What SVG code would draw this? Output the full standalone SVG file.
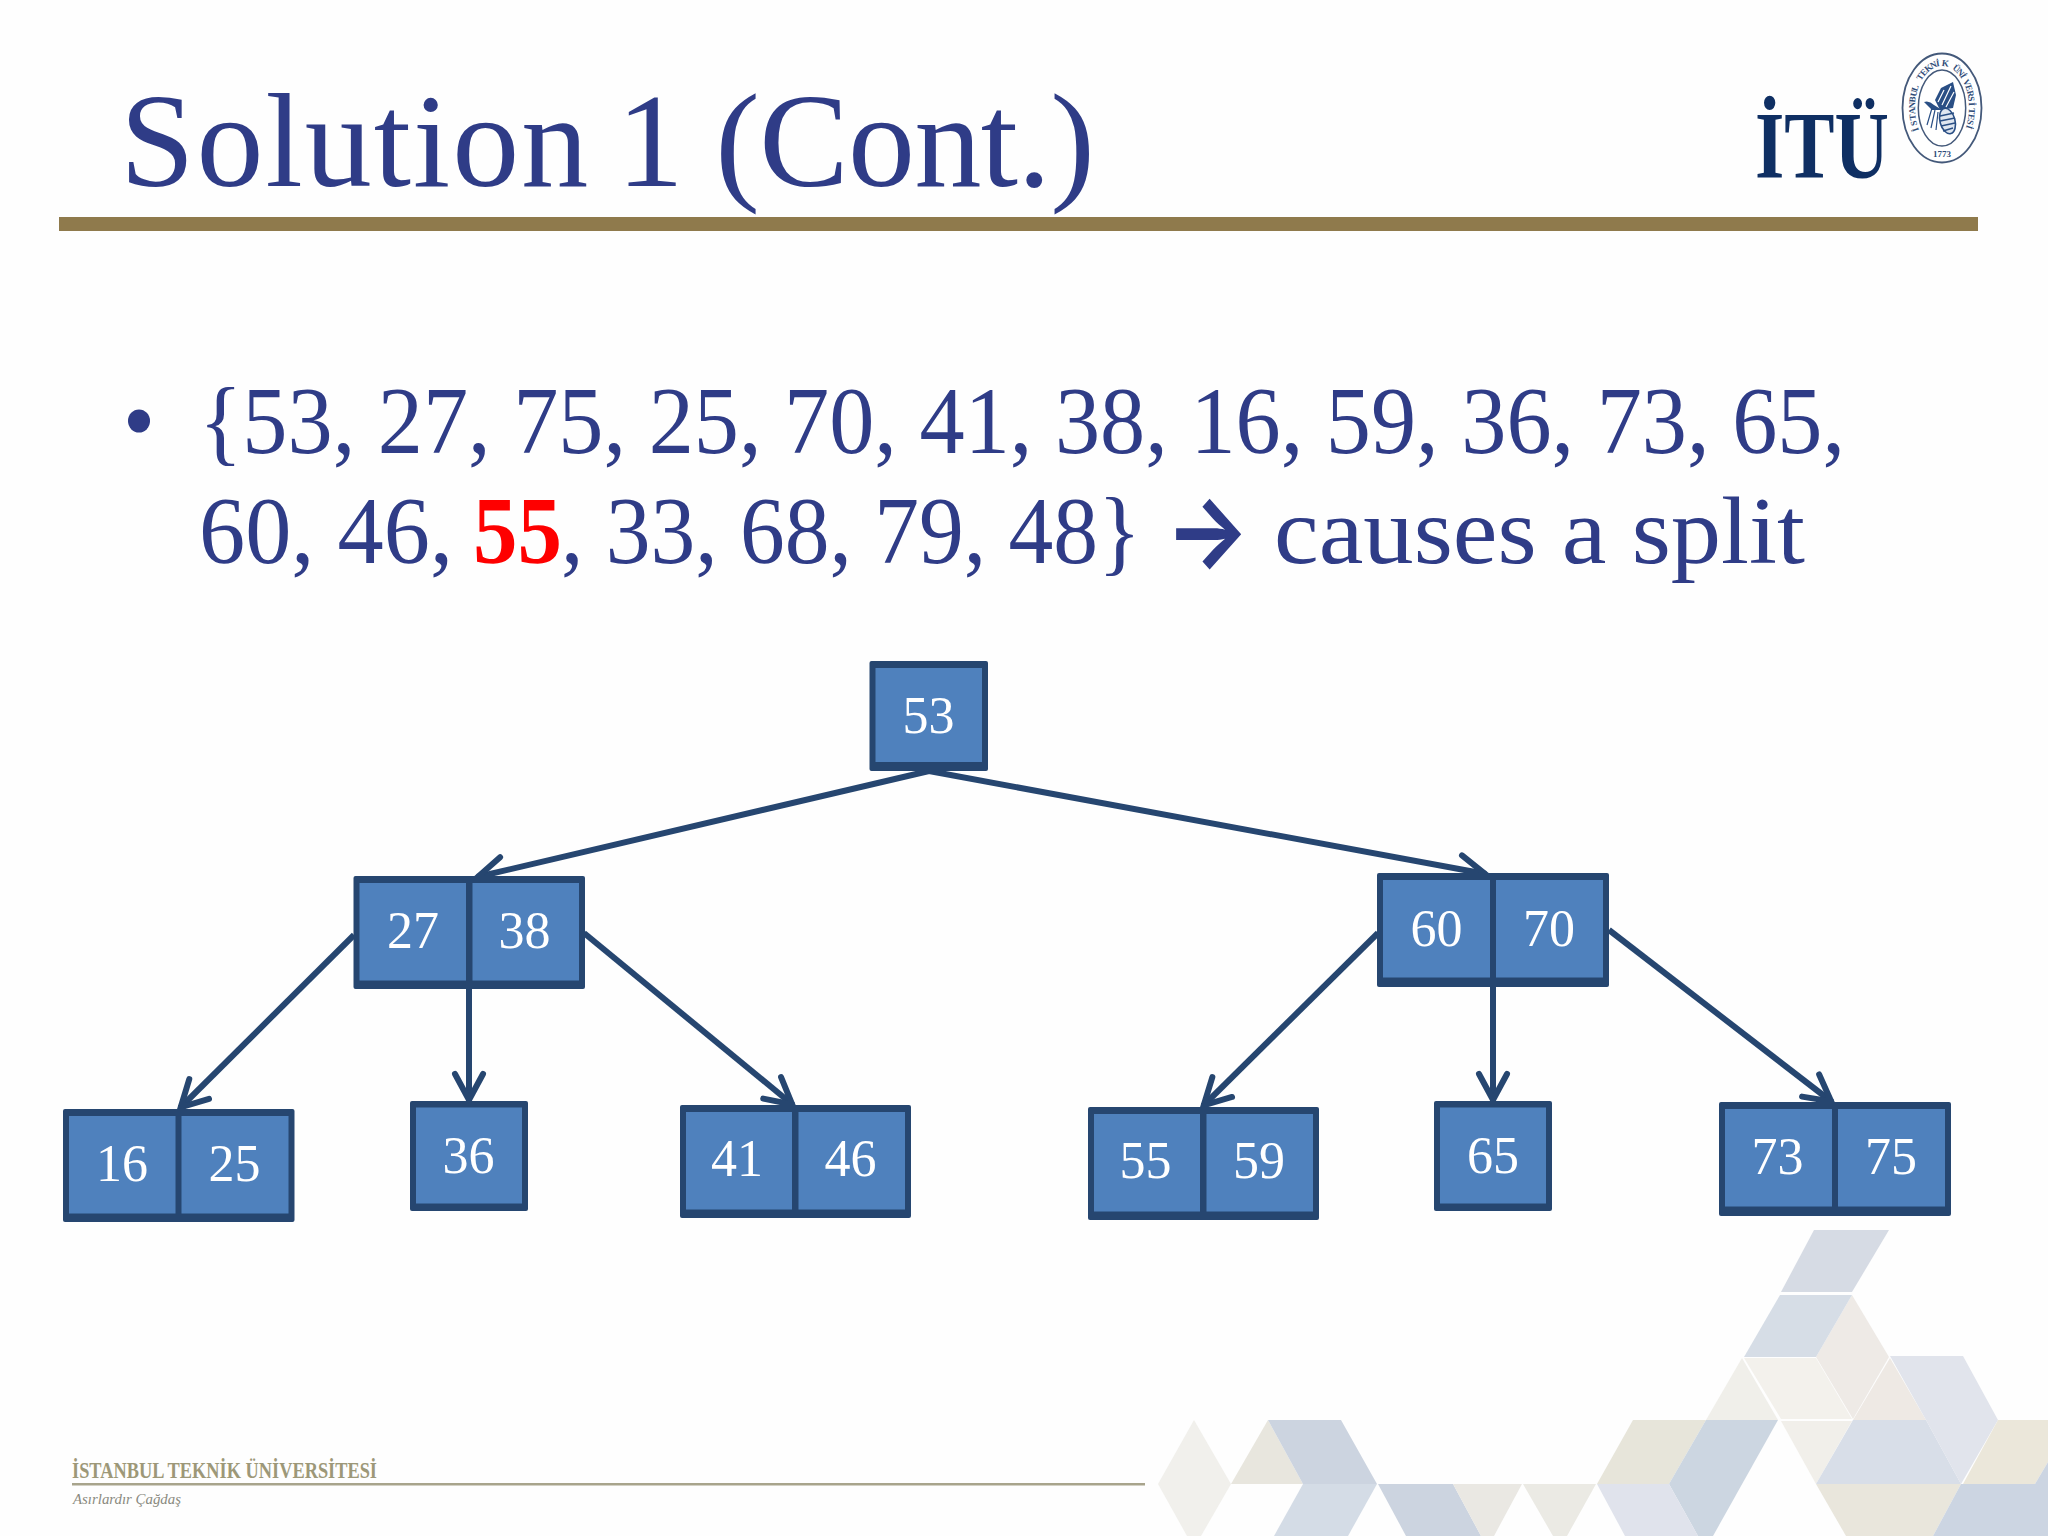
<svg xmlns="http://www.w3.org/2000/svg" width="2048" height="1536" viewBox="0 0 2048 1536">
<style>
.t{font-family:"Liberation Serif","Times New Roman",serif;fill:#2f3c87}
.l{font-size:96px}
.n{font-family:"Liberation Serif","Times New Roman",serif;font-size:52px;fill:#fff;text-anchor:middle}
.b{fill:#264670}
.c{fill:#4f81bd}
.e{fill:none;stroke:#264670;stroke-width:6}
.a{fill:none;stroke:#264670;stroke-width:6;stroke-linecap:round;stroke-linejoin:miter}
.s{font-family:"Liberation Serif",serif;font-weight:bold;font-size:9px;fill:#2f4c78}
</style>
<defs>
<marker id="ah" markerUnits="userSpaceOnUse" markerWidth="60" markerHeight="60" refX="40" refY="30" orient="auto" overflow="visible">
<path class="a" d="M13,16 L39,30 L13,44"/>
</marker>
</defs>
<rect width="2048" height="1536" fill="#fefefe"/>
<g id="background-pattern">
<polygon fill="#f1f0ec" points="1194,1420 1231,1484 1201,1536 1187,1536 1158,1484"/>
<polygon fill="#e8e6de" points="1268,1420 1303,1484 1231,1484"/>
<polygon fill="#ccd4e0" points="1268,1420 1341,1420 1377,1484 1303,1484"/>
<polygon fill="#d4dce6" points="1303,1484 1377,1484 1348,1536 1274,1536"/>
<polygon fill="#ccd4e0" points="1378,1484 1453,1484 1481,1536 1406,1536"/>
<polygon fill="#eae8e3" points="1453,1484 1522,1484 1494,1536 1481,1536"/>
<polygon fill="#ebeae4" points="1523,1484 1596,1484 1567,1536 1553,1536"/>
<polygon fill="#e7e5da" points="1633,1420 1706,1420 1669,1484 1597,1484"/>
<polygon fill="#ccd6e1" points="1706,1420 1778,1420 1713,1536 1698,1536 1669,1484"/>
<polygon fill="#e0e3ec" points="1597,1484 1669,1484 1698,1536 1625,1536"/>
<polygon fill="#f0efea" points="1742,1358 1778,1420 1706,1420"/>
<polygon fill="#f3f1ec" points="1744,1358 1816,1358 1852,1419 1781,1419"/>
<polygon fill="#eeeae6" points="1852,1295 1889,1357 1853,1419 1816,1357"/>
<polygon fill="#d6dde6" points="1780,1295 1852,1295 1816,1357 1744,1357"/>
<polygon fill="#d6dbe4" points="1814,1230 1889,1230 1852,1292 1781,1292"/>
<polygon fill="#eee9e4" points="1890,1358 1926,1420 1853,1420"/>
<polygon fill="#f1efea" points="1781,1421 1852,1421 1816,1484"/>
<polygon fill="#d8dee8" points="1853,1420 1926,1420 1961,1484 1816,1484"/>
<polygon fill="#e1e4ec" points="1890,1356 1963,1356 1998,1420 1961,1484 1926,1420"/>
<polygon fill="#ebe7da" points="1998,1420 2048,1420 2048,1462 2035,1484 1963,1484"/>
<polygon fill="#ccd5e2" points="2048,1462 2048,1484 2035,1484"/>
<polygon fill="#e9e6dc" points="1816,1484 1961,1484 1933,1536 1846,1536"/>
<polygon fill="#ccd5e2" points="1961,1484 2048,1484 2048,1536 1933,1536"/>
</g>
<g id="header">
<rect x="59" y="217" width="1919" height="14" fill="#8f7a4c"/>
<text class="t" x="120" y="186" font-size="134" word-spacing="-7"><tspan letter-spacing="2">Solution</tspan> 1 <tspan dx="5" letter-spacing="-.6">(Cont.)</tspan></text>
</g>
<g id="logo">
<text x="1755" y="178" font-family="Liberation Serif,serif" font-weight="bold" font-size="95" fill="#0f2f63" textLength="134" lengthAdjust="spacingAndGlyphs">İTÜ</text>
<ellipse cx="1942" cy="108" rx="39.500" ry="54.500" fill="#fff" stroke="#44597a" stroke-width="1.800"/>
<ellipse cx="1942" cy="108" rx="23.700" ry="38" fill="none" stroke="#44597a" stroke-width="1.500"/>
<text class="s" x="1919 1917.300 1916 1915.200 1915 1915.100 1915.900 1917 1918.800 1921.100 1923.900 1927.400 1931.700 1936.500 1941.500 1946.900 1952 1956.100 1959.700 1962.800 1965.200 1966.900 1968.100 1968.800 1969 1968.800 1968.100 1966.900" y="130.200 125.100 119.700 114.100 108.400 102.700 97.100 91.800 86.300 81.100 76.600 72.500 69 66.600 65.800 66.500 68.700 72 76.100 80.900 86 91.300 96.700 102.400 108.100 113.700 119.300 124.600" rotate="-108.500 -103 -97.800 -92.700 -87.700 -82.600 -77.400 -71.900 -65.400 -57.800 -49.100 -38.500 -24.500 -8.400 8.400 24.500 38.500 49.100 57.800 65.400 71.900 77.400 82.600 87.700 92.700 97.800 103 108.500">İSTANBUL TEKNİK ÜNİVERSİTESİ</text>
<text class="s" x="1942" y="157" text-anchor="middle">1773</text>
<path d="M1953,82 L1941,88 L1935,100 L1940,110 L1953,108 L1956,95 Z" fill="#2a4f85"/>
<path d="M1951,86 L1942,105 M1954,92 L1946,107 M1944,90 L1938,102" stroke="#fff" stroke-width="1.200" fill="none"/>
<ellipse cx="1947.500" cy="121" rx="7.500" ry="13" transform="rotate(-15 1947.500 121)" fill="#dfe6f0" stroke="#2a4f85" stroke-width="1.600"/>
<path d="M1940,116 L1954,113 M1940,121 L1955,118 M1941,126 L1955,123 M1943,131 L1953,128" stroke="#2a4f85" stroke-width="1.400" fill="none"/>
<path d="M1924,102 Q1929,100 1934,105 L1942,110 L1932,110 Z" fill="#2a4f85"/>
<path d="M1932,108 L1927,125 M1935,110 L1931,128 M1938,112 L1936,130" stroke="#2a4f85" stroke-width="1.200" fill="none"/>
</g>
<g id="bullet">
<ellipse cx="139" cy="421" rx="11" ry="11.500" fill="#2f3c87"/>
<text class="t l" x="199" y="453" textLength="1646" lengthAdjust="spacingAndGlyphs">{53, 27, 75, 25, 70, 41, 38, 16, 59, 36, 73, 65,</text>
<text class="t l" x="199" y="563" textLength="254" lengthAdjust="spacingAndGlyphs">60, 46,</text>
<text class="l" x="473" y="563" font-family="Liberation Serif,serif" font-weight="bold" fill="#fe0000" textLength="89" lengthAdjust="spacingAndGlyphs">55</text>
<text class="t l" x="561" y="563" textLength="580" lengthAdjust="spacingAndGlyphs">, 33, 68, 79, 48}</text>
<text x="1165" y="566" font-family="Inter,sans-serif" font-weight="700" font-size="100" fill="#2f3c87" textLength="85" lengthAdjust="spacingAndGlyphs">→</text>
<text class="t l" x="1274" y="563" textLength="531" lengthAdjust="spacingAndGlyphs">causes a split</text>
</g>
<g id="connectors">
<line class="e" x1="929" y1="771" x2="477" y2="877" marker-end="url(#ah)"/>
<line class="e" x1="929" y1="771" x2="1486" y2="874" marker-end="url(#ah)"/>
<line class="e" x1="354" y1="935" x2="180" y2="1108" marker-end="url(#ah)"/>
<line class="e" x1="469" y1="989" x2="469" y2="1101" marker-end="url(#ah)"/>
<line class="e" x1="584" y1="933" x2="793" y2="1105" marker-end="url(#ah)"/>
<line class="e" x1="1378" y1="933" x2="1203" y2="1106" marker-end="url(#ah)"/>
<line class="e" x1="1493" y1="987" x2="1493" y2="1101" marker-end="url(#ah)"/>
<line class="e" x1="1609" y1="930" x2="1832" y2="1102" marker-end="url(#ah)"/>
</g>
<g id="node-53">
<rect class="b" x="869.500" y="661" width="118.500" height="110" rx="2"/><rect class="c" x="875.500" y="668" width="106.500" height="94"/>
<text class="n" x="928.500" y="733">53</text>
</g>
<g id="node-27-38">
<rect class="b" x="353.500" y="876" width="231.500" height="113" rx="2"/><rect class="c" x="359.500" y="883" width="106.500" height="97.500"/><rect class="c" x="472.500" y="883" width="106.500" height="97.500"/>
<text class="n" x="413" y="948">27</text><text class="n" x="524.500" y="948">38</text>
</g>
<g id="node-60-70">
<rect class="b" x="1377" y="873" width="232" height="114" rx="2"/><rect class="c" x="1383" y="880" width="107" height="97.500"/><rect class="c" x="1496" y="880" width="107" height="97.500"/>
<text class="n" x="1436.500" y="946">60</text><text class="n" x="1549" y="946">70</text>
</g>
<g id="node-16-25">
<rect class="b" x="63" y="1109" width="231.500" height="113" rx="2"/><rect class="c" x="69" y="1116" width="106.500" height="97.500"/><rect class="c" x="181.500" y="1116" width="107" height="97.500"/>
<text class="n" x="122" y="1181">16</text><text class="n" x="234.500" y="1181">25</text>
</g>
<g id="node-36">
<rect class="b" x="410" y="1101" width="118" height="110" rx="2"/><rect class="c" x="416" y="1107.500" width="106" height="96"/>
<text class="n" x="468.500" y="1173">36</text>
</g>
<g id="node-41-46">
<rect class="b" x="680" y="1105" width="231" height="113" rx="2"/><rect class="c" x="686" y="1112" width="106" height="97.500"/><rect class="c" x="798.500" y="1112" width="106.500" height="97.500"/>
<text class="n" x="737" y="1176">41</text><text class="n" x="850.500" y="1176">46</text>
</g>
<g id="node-55-59">
<rect class="b" x="1088" y="1107" width="231" height="113" rx="2"/><rect class="c" x="1094" y="1114" width="106" height="97.500"/><rect class="c" x="1206.500" y="1114" width="106.500" height="97.500"/>
<text class="n" x="1145.500" y="1178">55</text><text class="n" x="1259" y="1178">59</text>
</g>
<g id="node-65">
<rect class="b" x="1434" y="1101" width="118" height="110" rx="2"/><rect class="c" x="1440" y="1107.500" width="106" height="96"/>
<text class="n" x="1493" y="1173">65</text>
</g>
<g id="node-73-75">
<rect class="b" x="1719" y="1102" width="232" height="114" rx="2"/><rect class="c" x="1725" y="1109" width="107" height="97.500"/><rect class="c" x="1838" y="1109" width="107" height="97.500"/>
<text class="n" x="1777.500" y="1174">73</text><text class="n" x="1891" y="1174">75</text>
</g>
<g id="footer">
<text x="72" y="1478" font-family="Liberation Serif,serif" font-weight="bold" font-size="23" fill="#9d9878" textLength="305" lengthAdjust="spacingAndGlyphs">İSTANBUL TEKNİK ÜNİVERSİTESİ</text>
<rect x="72" y="1483" width="1073" height="2.500" fill="#a8a48c"/>
<text x="73" y="1504" font-family="Liberation Serif,serif" font-style="italic" font-size="15" fill="#8a8a80" textLength="108" lengthAdjust="spacingAndGlyphs">Asırlardır Çağdaş</text>
</g>
</svg>
